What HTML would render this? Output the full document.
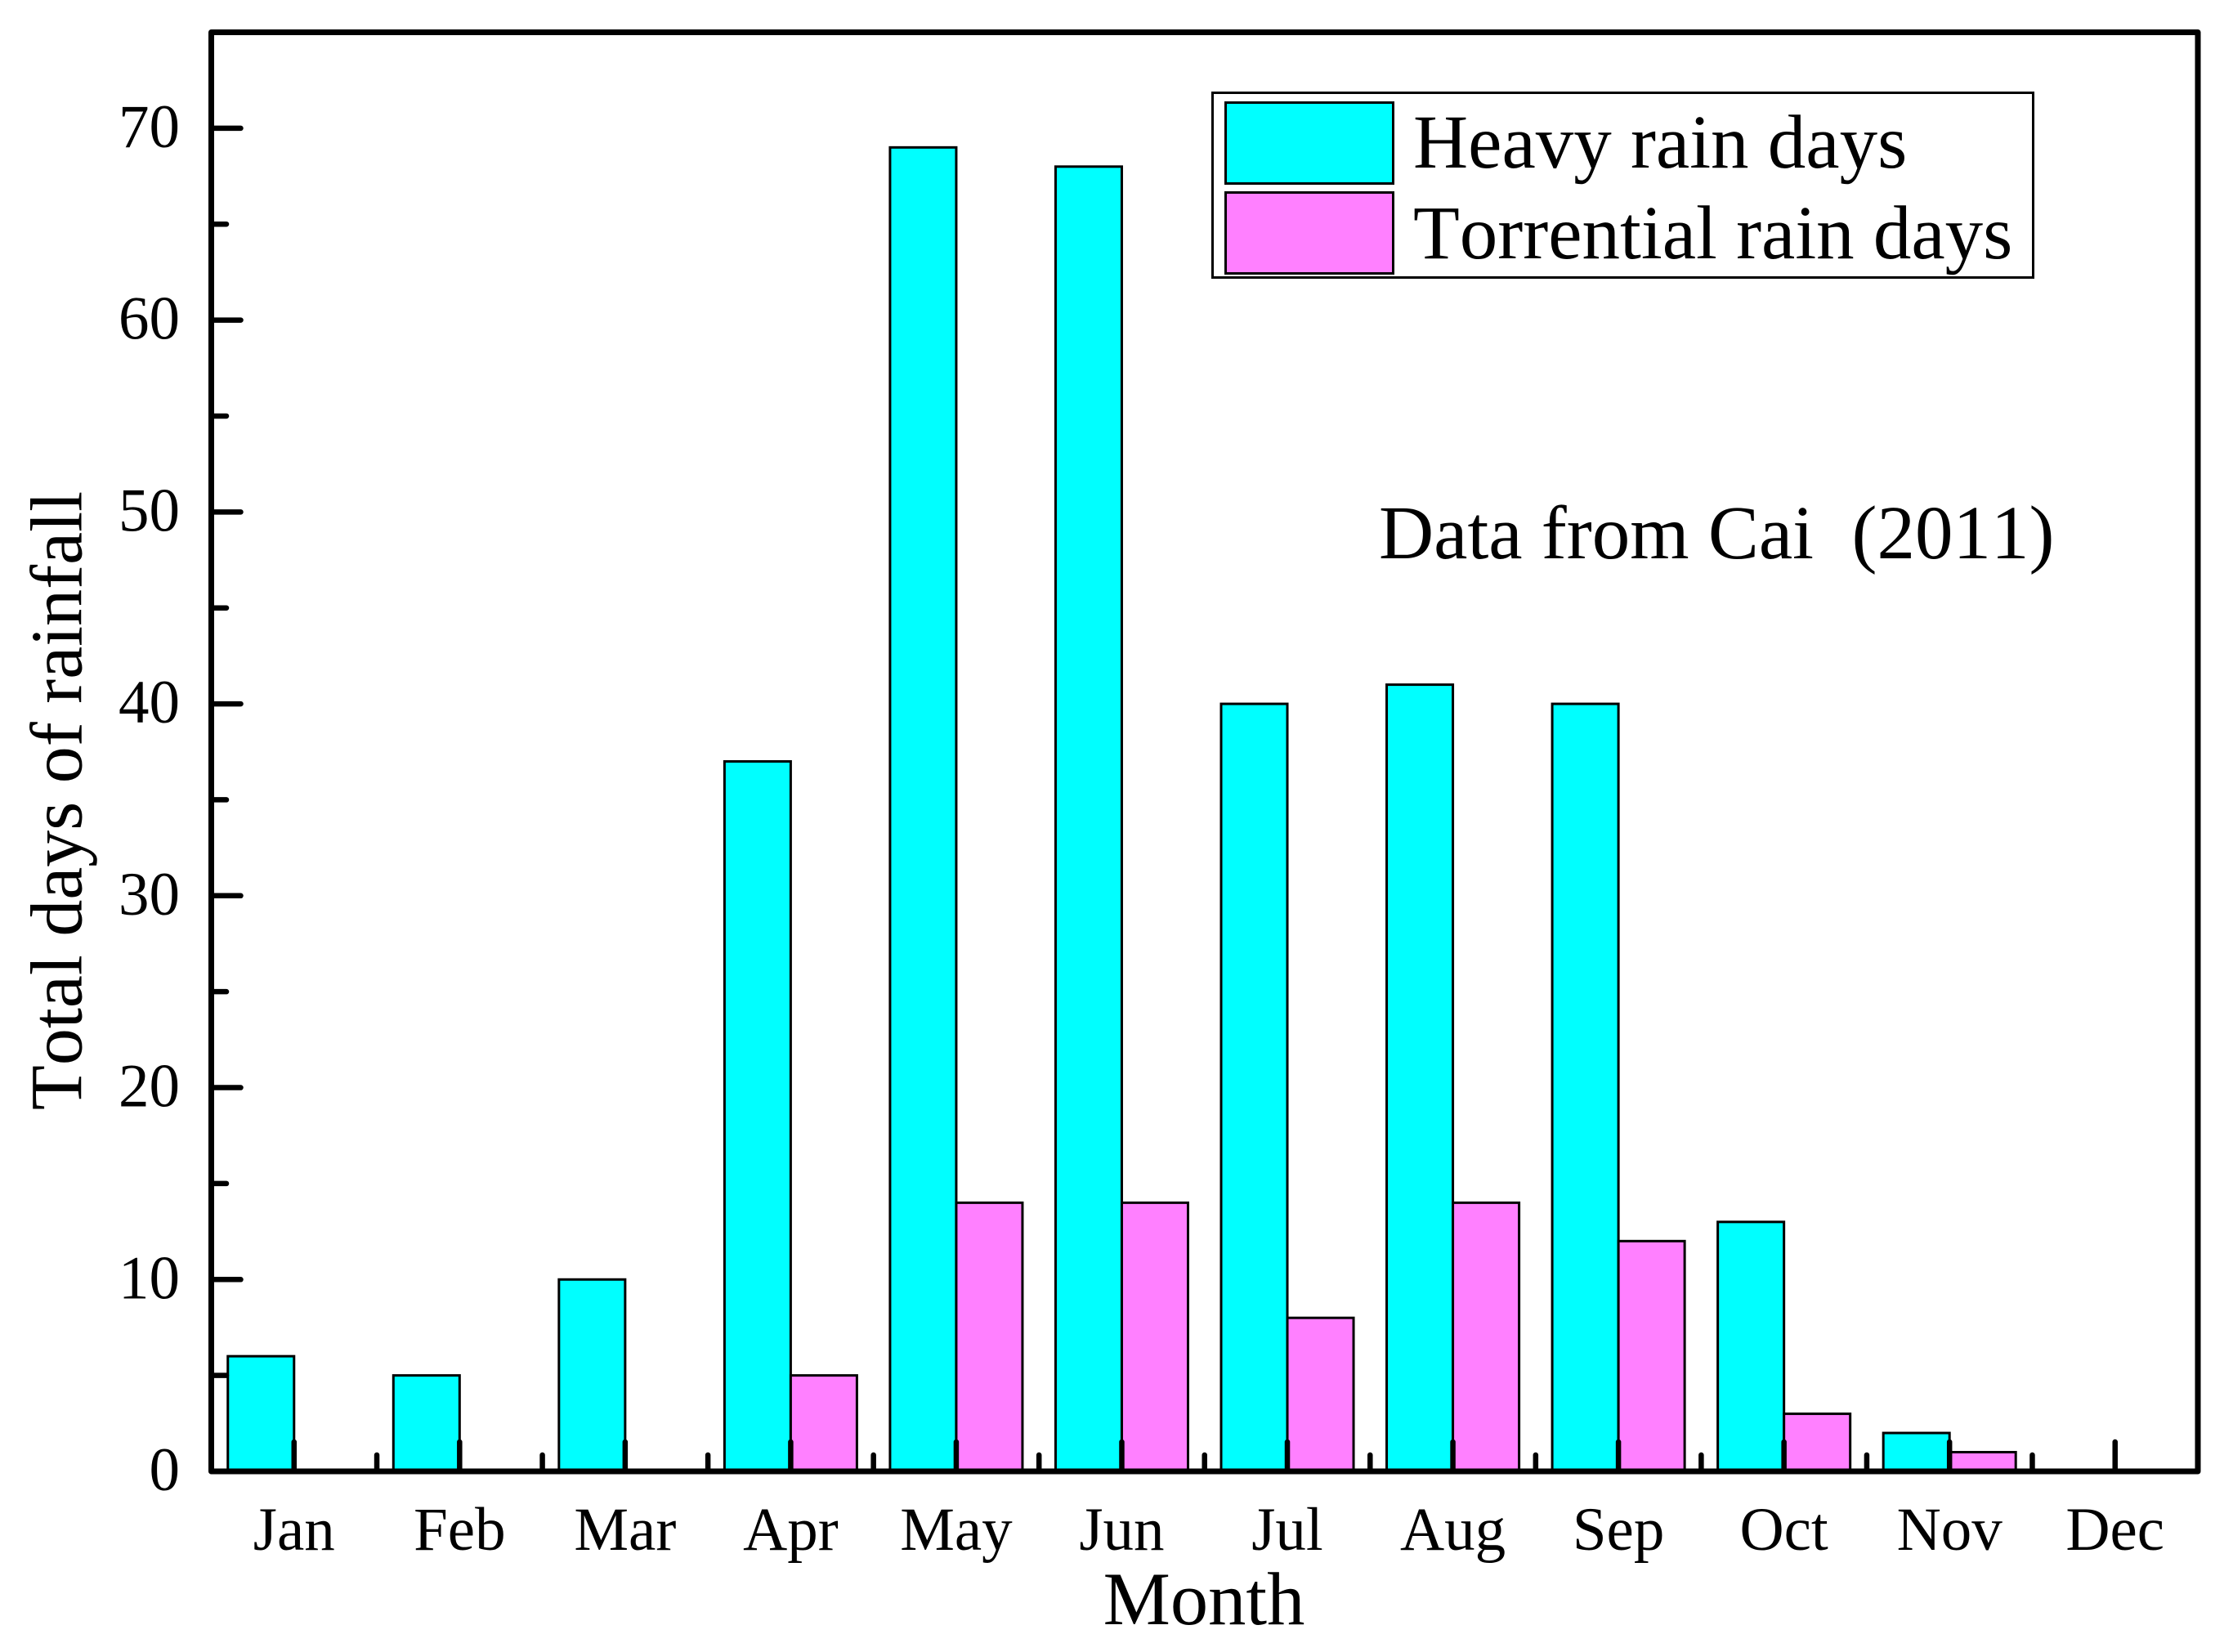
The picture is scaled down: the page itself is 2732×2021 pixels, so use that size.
<!DOCTYPE html>
<html lang="en">
<head>
<meta charset="utf-8">
<title>Total days of rainfall by month</title>
<style>
  html, body { margin: 0; padding: 0; background: #fff; }
  svg { display: block; font-family: "Liberation Serif", serif; font-kerning: none; }
  text { fill: #000; white-space: pre; font-kerning: none; }
</style>
</head>
<body>
<svg id="chart" xmlns="http://www.w3.org/2000/svg" width="2732" height="2021" viewBox="0 0 2732 2021">
  <rect x="0" y="0" width="2732" height="2021" fill="#fff"/>
  <g id="bars"></g>
  <g id="ticks"></g>
  <g id="labels"></g>
  <rect x="258.5" y="39.5" width="2430.5" height="1760.5" fill="none" stroke="#000" stroke-width="7" stroke-linejoin="round"/>
  <text x="1473" y="1987" font-size="92.5" text-anchor="middle">Month</text>
  <text transform="translate(99.5 979.5) rotate(-90)" font-size="90" text-anchor="middle">Total days of rainfall</text>
  <text x="1687" y="683" font-size="93">Data from Cai  (2011)</text>
  <g>
    <rect x="1483.5" y="113.5" width="1004" height="226" fill="#fff" stroke="#000" stroke-width="3"/>
    <rect x="1499.5" y="125.5" width="205" height="99" fill="#00ffff" stroke="#000" stroke-width="3"/>
    <rect x="1499.5" y="235.5" width="205" height="99" fill="#ff80ff" stroke="#000" stroke-width="3"/>
    <text x="1729" y="205" font-size="93">Heavy rain days</text>
    <text x="1729" y="316" font-size="93">Torrential rain days</text>
  </g>
</svg>
<script>
const months = ["Jan","Feb","Mar","Apr","May","Jun","Jul","Aug","Sep","Oct","Nov","Dec"];
const heavyDays = [6,5,10,37,69,68,40,41,40,13,2,0];
const torrentialDays = [0,0,0,5,14,14,8,14,12,3,1,0];
const yMajorTicks = [0,10,20,30,40,50,60,70];
const yMinorTicks = [5,15,25,35,45,55,65];

const NS = "http://www.w3.org/2000/svg";
const plot = { left: 258.5, right: 2689, top: 39.5, bottom: 1800 };
const xDomain = [0.5, 12.5];
const yDomain = [0, 75];
const x = v => plot.left + (v - xDomain[0]) / (xDomain[1] - xDomain[0]) * (plot.right - plot.left);
const y = v => plot.bottom - (v - yDomain[0]) / (yDomain[1] - yDomain[0]) * (plot.bottom - plot.top);
const barWidth = x(1.4) - x(1);

function make(tag, attrs, parent) {
  const el = document.createElementNS(NS, tag);
  for (const k in attrs) el.setAttribute(k, attrs[k]);
  parent.appendChild(el);
  return el;
}

const barsG = document.getElementById("bars");
const ticksG = document.getElementById("ticks");
const labelsG = document.getElementById("labels");

months.forEach((m, i) => {
  const cx = x(i + 1);
  const h = make("rect", { x: cx - barWidth, y: y(heavyDays[i]), width: barWidth, height: y(0) - y(heavyDays[i]), fill: "#00ffff", stroke: "#000", "stroke-width": 3 }, barsG);
  
  
  const t = make("rect", { x: cx, y: y(torrentialDays[i]), width: barWidth, height: y(0) - y(torrentialDays[i]), fill: "#ff80ff", stroke: "#000", "stroke-width": 3 }, barsG);
  
  

  const major = make("line", { x1: cx, x2: cx, y1: plot.bottom, y2: plot.bottom - 36, stroke: "#000", "stroke-width": 6.5, "stroke-linecap": "round" }, ticksG);
  
  

  if (i < months.length - 1) {
    const mx = x(i + 1.5);
    const minor = make("line", { x1: mx, x2: mx, y1: plot.bottom, y2: plot.bottom - 20, stroke: "#000", "stroke-width": 6.5, "stroke-linecap": "round" }, ticksG);
    
    
  }

  const label = make("text", { x: cx, y: 1896, "font-size": 75, "text-anchor": "middle" }, labelsG);
  label.textContent = m;
  
  
});

yMajorTicks.forEach(v => {
  const tick = make("line", { x1: plot.left, x2: plot.left + 36, y1: y(v), y2: y(v), stroke: "#000", "stroke-width": 6.5, "stroke-linecap": "round" }, ticksG);
  
  
  const label = make("text", { x: 220, y: y(v) + 23, "font-size": 75, "text-anchor": "end" }, labelsG);
  label.textContent = String(v);
  
  
});

yMinorTicks.forEach(v => {
  const tick = make("line", { x1: plot.left, x2: plot.left + 18.5, y1: y(v), y2: y(v), stroke: "#000", "stroke-width": 6.5, "stroke-linecap": "round" }, ticksG);
  
  
});
</script>
</body>
</html>
